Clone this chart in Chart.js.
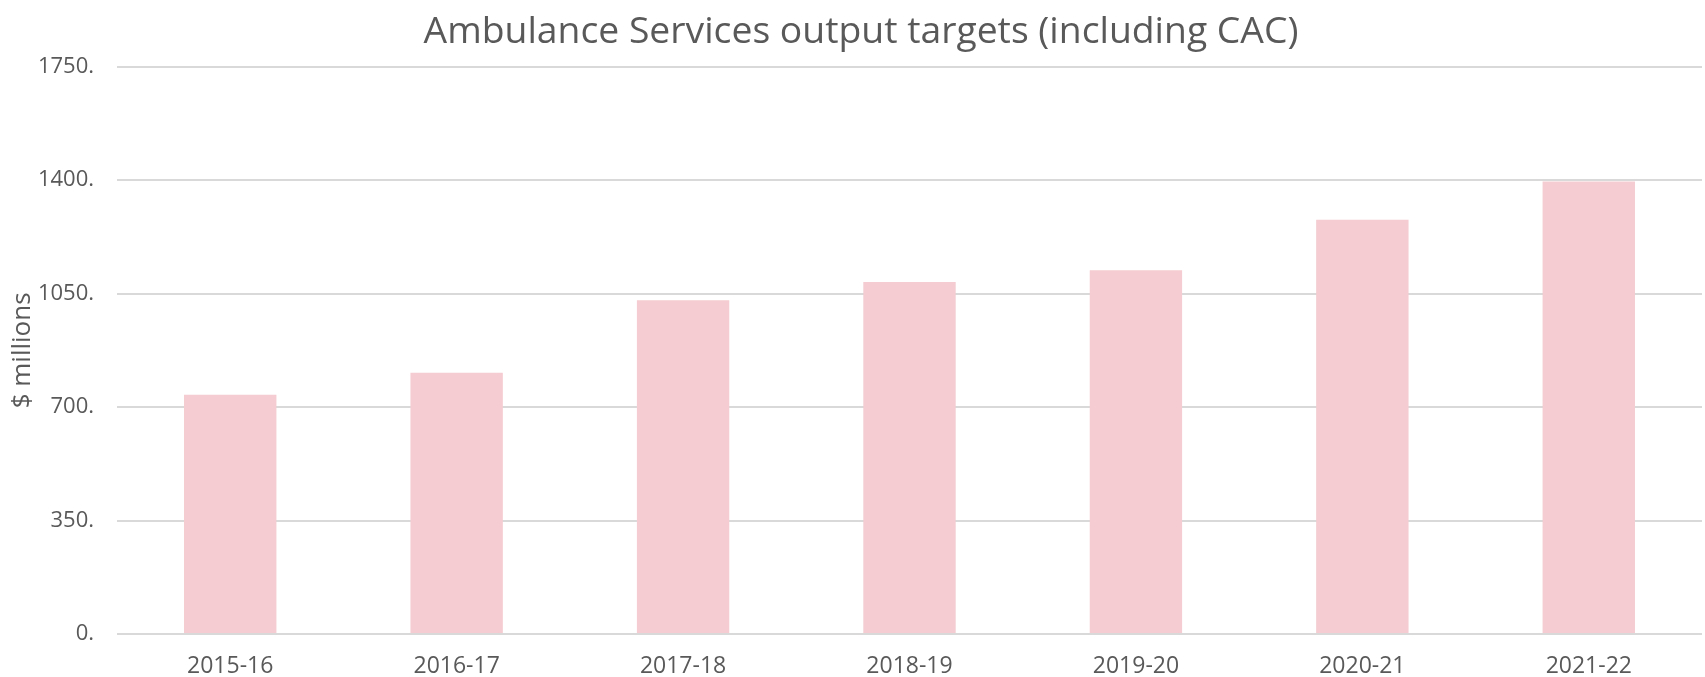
<!DOCTYPE html>
<html lang="en">
<head>
    <meta charset="UTF-8">
    <title>Ambulance Services output targets</title>
    <script src="https://cdn.jsdelivr.net/npm/chart.js"></script>
    <style>
        html, body { margin: 0; padding: 0; background: #ffffff; }
        #wrap { width: 1705px; height: 677px; position: relative; }
    </style>
</head>
<body>
    <div id="wrap">
        <canvas id="barChart"></canvas>
    </div>
    <script>
        // data
        var years = ['2015-16', '2016-17', '2017-18', '2018-19', '2019-20', '2020-21', '2021-22'];
        var outputTargets = [738, 806, 1030, 1086, 1122, 1278, 1396];
        var yTicks = [0, 350, 700, 1050, 1400, 1750];

        var textColor = '#595959';
        var gridColor = '#d9d9d9';

        var ctx = document.getElementById('barChart').getContext('2d');
        var myChart = new Chart(ctx, {
            type: 'bar',
            data: {
                labels: years,
                datasets: [{
                    label: 'Output targets',
                    data: outputTargets,
                    backgroundColor: '#f4ccd1',
                    borderWidth: 0,
                    barPercentage: 0.408,
                    categoryPercentage: 1.0
                }]
            },
            options: {
                responsive: true,
                maintainAspectRatio: false,
                animation: false,
                layout: {
                    // left padding pushes the centred title over to match the plot
                    padding: { left: 20, right: 3, top: 0, bottom: 0 }
                },
                plugins: {
                    legend: { display: false },
                    tooltip: { enabled: false },
                    title: {
                        display: true,
                        text: 'Ambulance Services output targets (including CAC)',
                        color: textColor,
                        font: { family: 'Open Sans', size: 37.3, weight: 'normal' },
                        padding: { top: 10, bottom: 12 }
                    }
                },
                scales: {
                    x: {
                        grid: { display: false },
                        border: { display: false },
                        afterFit: function (scale) {
                            scale.height = 43;
                        },
                        ticks: {
                            color: textColor,
                            font: { family: 'Open Sans', size: 23 },
                            padding: 11,
                            maxRotation: 0
                        }
                    },
                    y: {
                        min: yTicks[0],
                        max: yTicks[yTicks.length - 1],
                        afterBuildTicks: function (scale) {
                            scale.ticks = yTicks.map(function (v) { return { value: v }; });
                        },
                        afterFit: function (scale) {
                            scale.width = 97;
                        },
                        grid: {
                            color: gridColor,
                            lineWidth: 2,
                            drawTicks: false
                        },
                        border: { display: false },
                        ticks: {
                            color: textColor,
                            font: { family: 'Open Sans', size: 22 },
                            padding: 23,
                            callback: function (value) { return value + '.'; }
                        },
                        title: {
                            display: true,
                            text: '$ millions',
                            color: textColor,
                            font: { family: 'Open Sans', size: 26 },
                            padding: { top: -13, bottom: 0 }
                        }
                    }
                }
            }
        });
    </script>
</body>
</html>
